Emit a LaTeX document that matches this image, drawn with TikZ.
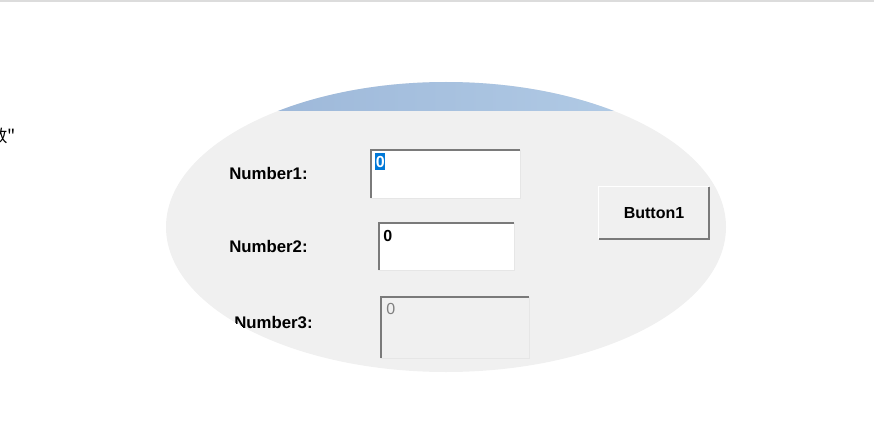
\documentclass[tikz,border=0pt]{standalone}
\usepackage{fontspec}
\setmainfont{Liberation Sans}
\newfontfamily\cjkfont{Noto Sans CJK SC}
\definecolor{panelGray}{HTML}{F0F0F0}
\definecolor{edgeDark}{HTML}{7A7A7A}
\definecolor{edgeLight}{HTML}{E6E6E6}
\definecolor{titleLeft}{HTML}{98B3D6}
\definecolor{titleRight}{HTML}{B6CFE8}
\definecolor{selectBlue}{HTML}{0078D7}
\begin{document}
\begin{tikzpicture}[x=0.75pt, y=-0.75pt, labelStyle/.style={font=\bfseries\fontsize{12.6}{14}\selectfont, anchor=west, inner sep=0pt}, boxStyle/.style={rectangle, fill=white, inner sep=0pt}, valueStyle/.style={font=\bfseries\fontsize{12}{14}\selectfont, anchor=north west, inner sep=0pt}, buttonStyle/.style={rectangle, fill=panelGray, inner sep=0pt, font=\bfseries\fontsize{12}{14}\selectfont}]
                    \useasboundingbox (0,0) rectangle (874,424);
                    \draw[edgeLight!90!gray, line width=1.2pt] (0,0.8) -- (874,0.8);
                    \node[font=\cjkfont\fontsize{13}{15}\selectfont, anchor=east, inner sep=0pt] (cut_text) at (16,136) {数"};

                    \begin{scope}
                    \clip (446,227) ellipse [x radius=280, y radius=145];
                    \fill[panelGray] (160,75) rectangle (730,380);
                    \shade[left color=titleLeft, right color=titleRight] (160,75) rectangle (730,111);

                    \node[labelStyle] (label_1) at (229,173) {Number1:};
                    \node[labelStyle] (label_2) at (229,246) {Number2:};
                    \node[labelStyle] (label_3) at (234,323) {Number3:};

                    \node[boxStyle, minimum width=111.75pt, minimum height=36pt] (box_1) at (445.5,174) {};
                    \node[boxStyle, minimum width=101.25pt, minimum height=35.25pt] (box_2) at (446.5,246.5) {};
                    \node[boxStyle, fill=panelGray, minimum width=111pt, minimum height=45.75pt] (box_3) at (455,327.5) {};
                    \node[buttonStyle, minimum width=82.5pt, minimum height=39pt] (button_1) at (654,213) {Button1};

                    \draw[edgeLight, line width=1pt] (box_1.north east) -- (box_1.south east) -- (box_1.south west);
                    \draw[edgeDark, line width=1.3pt] (box_1.south west) -- (box_1.north west) -- (box_1.north east);
                    \draw[edgeLight, line width=1pt] (box_2.north east) -- (box_2.south east) -- (box_2.south west);
                    \draw[edgeDark, line width=1.3pt] (box_2.south west) -- (box_2.north west) -- (box_2.north east);
                    \draw[edgeLight, line width=1pt] (box_3.north east) -- (box_3.south east) -- (box_3.south west);
                    \draw[edgeDark, line width=1.3pt] (box_3.south west) -- (box_3.north west) -- (box_3.north east);
                    \draw[white, line width=1pt] (button_1.south west) -- (button_1.north west) -- (button_1.north east);
                    \draw[edgeDark, line width=1.3pt] (button_1.north east) -- (button_1.south east) -- (button_1.south west);

                    \node[valueStyle, fill=selectBlue, text=white, minimum width=7.5pt, minimum height=12.75pt, align=center] (value_1) at (375,153) {0};
                    \node[valueStyle] (value_2) at (383,230) {0};
                    \node[valueStyle, font=\fontsize{12}{14}\selectfont, text=gray] (value_3) at (386,303) {0};
                    \end{scope}
                \end{tikzpicture}
\end{document}
